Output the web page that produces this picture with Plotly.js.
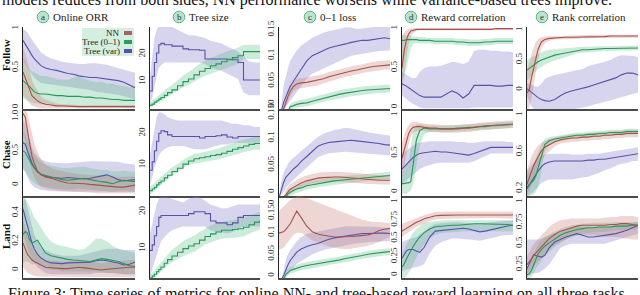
<!DOCTYPE html>
<html><head><meta charset="utf-8">
<script src="https://cdn.plot.ly/plotly-3.0.1.min.js"></script>
<style>html,body{margin:0;padding:0;background:#fff}#chart{width:640px;height:295px}</style>
</head><body><div id="chart"></div>
<script>
// time grid (shared by all panels, % of training)
const T = [0,2,4,6,8,10,13,16,20,25,30,35,40,45,50,55,60,65,70,75,80,85,90,95,100];

// ---------- Follow ----------
const fa_nn = [0.45,0.38,0.3,0.22,0.15,0.12,0.08,0.06,0.04,0.03,0.02,0.02,0.015,0.015,0.01,0.01,0.01,0.01,0.01,0.01,0.01,0.01,0.01,0.01,0.01];
const fa_nn_hi = [0.75,0.68,0.58,0.45,0.35,0.28,0.2,0.14,0.1,0.07,0.05,0.04,0.04,0.035,0.03,0.03,0.03,0.03,0.03,0.03,0.03,0.03,0.03,0.03,0.03];
const fa_nn_lo = [0.15,0.12,0.08,0.05,0.02,0.01,0,-0.01,-0.01,-0.01,-0.01,-0.01,-0.01,-0.01,-0.01,-0.01,-0.01,-0.01,-0.01,-0.01,-0.01,-0.01,-0.01,-0.01,-0.01];
const fa_g = [0.34,0.32,0.29,0.26,0.23,0.2,0.18,0.17,0.17,0.16,0.15,0.15,0.14,0.14,0.14,0.13,0.13,0.12,0.12,0.11,0.1,0.1,0.09,0.09,0.09];
const fa_g_hi = [0.62,0.58,0.52,0.48,0.46,0.44,0.42,0.4,0.4,0.38,0.36,0.35,0.35,0.38,0.4,0.36,0.34,0.32,0.33,0.3,0.3,0.28,0.27,0.26,0.25];
const fa_g_lo = [0.12,0.1,0.08,0.07,0.06,0.05,0.05,0.04,0.04,0.03,0.03,0.03,0.02,0.02,0.02,0.02,0.02,0.01,0.01,0.01,0.01,0.01,0,0,0];
const fa_v = [0.85,0.8,0.75,0.7,0.66,0.62,0.57,0.53,0.5,0.48,0.47,0.45,0.43,0.42,0.4,0.39,0.38,0.38,0.37,0.36,0.35,0.34,0.32,0.29,0.25];
const fa_v_hi = [1.0,0.98,0.95,0.9,0.86,0.82,0.76,0.7,0.66,0.62,0.6,0.58,0.57,0.56,0.55,0.55,0.56,0.56,0.55,0.54,0.52,0.5,0.48,0.46,0.44];
const fa_v_lo = [0.6,0.55,0.5,0.46,0.42,0.38,0.34,0.31,0.3,0.29,0.28,0.27,0.26,0.25,0.24,0.23,0.22,0.2,0.19,0.18,0.17,0.16,0.14,0.12,0.1];

const fb_v = [6.6,12,17,20.5,23.5,24,23.5,23.5,23,23,22,21.7,21.7,21.5,18.3,18.3,18.3,18.3,18.2,18,17,10.6,10.6,10.6,10.6];
const fb_v_hi = [12,20,26,29,30.5,30.5,30.5,30.5,30,29,28,27,27,26.5,26,25,24.5,24,23,22,21,19,17.5,17,17];
const fb_v_lo = [2,4,8,12,15,16,17,17,17,17,17,17,17,17,16.5,15,14.5,14,13,12,11,6,5,5,5];
const fb_g = [1.4,1.8,2.5,3,3.6,4.2,5,6,7,8.5,10,11,12.5,13.8,14.8,15.8,16.5,17.3,18,18.8,19.5,21,21,21,21];
const fb_g_hi = [2.5,3,3.7,4.3,5,5.7,6.6,7.7,8.8,10.5,12.2,13.4,15,16.5,17.6,18.7,19.5,20.3,21,21.8,22.5,23.5,23.5,23.5,23.5];
const fb_g_lo = [0.5,0.8,1.3,1.8,2.3,2.8,3.5,4.4,5.3,6.6,8,8.8,10,11.2,12.2,13,13.6,14.3,15,15.8,16.5,18.3,18.3,18.3,18.3];

const fc_v = [-0.01,-0.01,0.008,0.02,0.03,0.04,0.05,0.06,0.075,0.09,0.1,0.105,0.11,0.115,0.118,0.12,0.123,0.126,0.128,0.13,0.13,0.132,0.133,0.135,0.133];
const fc_v_hi = [-0.01,0,0.04,0.06,0.075,0.09,0.1,0.11,0.12,0.128,0.135,0.14,0.145,0.148,0.15,0.153,0.155,0.155,0.152,0.153,0.155,0.156,0.156,0.156,0.156];
const fc_v_lo = [-0.01,-0.01,-0.005,0,0.005,0.01,0.02,0.03,0.04,0.055,0.065,0.07,0.075,0.08,0.085,0.09,0.095,0.1,0.102,0.104,0.105,0.107,0.109,0.11,0.11];
const fc_nn = [-0.01,-0.01,-0.005,0.01,0.02,0.03,0.04,0.045,0.047,0.048,0.05,0.052,0.055,0.059,0.062,0.065,0.068,0.07,0.072,0.075,0.077,0.079,0.08,0.082,0.082];
const fc_nn_hi = [-0.01,-0.01,0.005,0.02,0.03,0.04,0.05,0.055,0.057,0.058,0.06,0.062,0.064,0.068,0.071,0.074,0.077,0.079,0.081,0.084,0.086,0.088,0.089,0.091,0.091];
const fc_nn_lo = [-0.01,-0.01,-0.01,0,0.01,0.02,0.03,0.035,0.037,0.038,0.04,0.042,0.046,0.05,0.053,0.056,0.059,0.061,0.063,0.066,0.068,0.07,0.071,0.073,0.073];
const fc_g = [-0.01,-0.01,-0.01,-0.01,-0.01,0,0.003,0.005,0.007,0.008,0.011,0.014,0.017,0.02,0.023,0.025,0.027,0.029,0.031,0.032,0.033,0.034,0.035,0.036,0.036];
const fc_g_hi = [-0.01,-0.01,-0.01,-0.01,-0.005,0.006,0.01,0.012,0.014,0.016,0.019,0.022,0.025,0.028,0.031,0.033,0.035,0.037,0.039,0.04,0.041,0.042,0.043,0.044,0.044];
const fc_g_lo = [-0.01,-0.01,-0.01,-0.01,-0.01,-0.005,-0.003,-0.001,0,0.001,0.004,0.007,0.01,0.012,0.015,0.017,0.019,0.021,0.023,0.024,0.025,0.026,0.027,0.028,0.028];

const fd_nn = [0.5,0.72,0.86,0.93,0.97,0.98,0.99,0.99,0.99,0.99,0.99,0.99,0.99,0.99,0.99,0.99,0.99,0.99,0.99,0.99,0.99,1,1,1,1];
const fd_nn_hi = [0.9,0.95,0.98,1,1.005,1.005,1.005,1.005,1.005,1.005,1.005,1.005,1.005,1.005,1.005,1.005,1.005,1.005,1.005,1.005,1.005,1.005,1.005,1.005,1.005];
const fd_nn_lo = [0.2,0.4,0.65,0.8,0.9,0.94,0.97,0.98,0.98,0.98,0.98,0.98,0.98,0.98,0.98,0.98,0.98,0.98,0.98,0.98,0.98,0.98,0.98,0.98,0.98];
const fd_g = [0.85,0.85,0.86,0.86,0.86,0.86,0.86,0.85,0.85,0.85,0.84,0.84,0.84,0.84,0.83,0.83,0.82,0.82,0.82,0.83,0.83,0.84,0.84,0.84,0.84];
const fd_g_hi = [0.92,0.92,0.92,0.91,0.9,0.9,0.9,0.89,0.89,0.88,0.88,0.88,0.88,0.88,0.87,0.87,0.86,0.86,0.86,0.87,0.87,0.88,0.88,0.88,0.88];
const fd_g_lo = [0.35,0.4,0.5,0.6,0.75,0.8,0.82,0.81,0.81,0.81,0.8,0.8,0.8,0.8,0.79,0.79,0.78,0.78,0.78,0.79,0.79,0.8,0.8,0.8,0.8];
const fd_v = [0.3,0.29,0.27,0.25,0.23,0.21,0.18,0.15,0.13,0.13,0.13,0.13,0.17,0.21,0.18,0.12,0.17,0.28,0.28,0.28,0.28,0.27,0.27,0.28,0.28];
const fd_v_hi = [0.45,0.43,0.42,0.4,0.38,0.37,0.38,0.45,0.5,0.52,0.52,0.53,0.55,0.58,0.57,0.55,0.58,0.72,0.73,0.73,0.72,0.72,0.71,0.71,0.7];
const fd_v_lo = [0.15,0.13,0.1,0.08,0.06,0.04,0.02,0,-0.01,-0.01,-0.01,-0.01,-0.01,-0.01,-0.01,-0.01,-0.01,0,0,0,0,0,0,0,0];

const fe_nn = [-0.05,0,0.2,0.38,0.56,0.68,0.8,0.84,0.86,0.87,0.87,0.88,0.88,0.88,0.89,0.89,0.89,0.89,0.89,0.9,0.9,0.9,0.9,0.9,0.9];
const fe_nn_hi = [0.35,0.45,0.6,0.72,0.8,0.85,0.88,0.89,0.9,0.9,0.9,0.91,0.91,0.91,0.92,0.92,0.92,0.92,0.92,0.92,0.92,0.92,0.92,0.92,0.92];
const fe_nn_lo = [-0.32,-0.3,-0.15,0.05,0.3,0.5,0.7,0.78,0.82,0.84,0.84,0.85,0.85,0.85,0.86,0.86,0.86,0.86,0.86,0.87,0.87,0.87,0.87,0.87,0.87];
const fe_g = [0.33,0.36,0.39,0.42,0.45,0.47,0.5,0.52,0.55,0.58,0.6,0.62,0.64,0.66,0.67,0.67,0.68,0.68,0.69,0.69,0.69,0.7,0.7,0.7,0.7];
const fe_g_hi = [0.5,0.52,0.55,0.57,0.59,0.61,0.63,0.65,0.67,0.68,0.69,0.7,0.71,0.72,0.72,0.72,0.73,0.73,0.73,0.73,0.73,0.74,0.74,0.74,0.74];
const fe_g_lo = [0.15,0.2,0.25,0.28,0.32,0.35,0.39,0.42,0.46,0.5,0.53,0.55,0.58,0.61,0.62,0.62,0.63,0.64,0.65,0.65,0.65,0.66,0.66,0.66,0.66];
const fe_v = [0.02,-0.01,-0.05,-0.08,-0.11,-0.13,-0.16,-0.18,-0.19,-0.16,-0.1,-0.05,-0.02,0,0.03,0.05,0.08,0.11,0.14,0.17,0.2,0.25,0.28,0.28,0.25];
const fe_v_hi = [0.12,0.1,0.08,0.06,0.05,0.05,0.1,0.18,0.22,0.25,0.27,0.28,0.3,0.32,0.35,0.4,0.42,0.45,0.47,0.5,0.55,0.58,0.58,0.57,0.55];
const fe_v_lo = [-0.1,-0.2,-0.28,-0.32,-0.33,-0.33,-0.33,-0.33,-0.33,-0.33,-0.33,-0.33,-0.33,-0.32,-0.3,-0.28,-0.25,-0.22,-0.2,-0.18,-0.15,-0.12,-0.1,-0.07,-0.05];

// ---------- Chase ----------
const ca_nn = [1.05,1,0.8,0.58,0.42,0.32,0.2,0.15,0.12,0.1,0.07,0.05,0.03,0.03,0.02,0.02,0.01,0,-0.01,-0.02,-0.03,-0.03,-0.03,-0.02,0];
const ca_nn_hi = [1.12,1.12,1.05,0.9,0.75,0.62,0.48,0.38,0.3,0.25,0.22,0.2,0.18,0.17,0.16,0.15,0.15,0.14,0.14,0.13,0.12,0.12,0.12,0.12,0.13];
const ca_nn_lo = [0.75,0.65,0.5,0.32,0.2,0.12,0.03,-0.02,-0.05,-0.07,-0.08,-0.09,-0.1,-0.1,-0.1,-0.1,-0.11,-0.12,-0.12,-0.13,-0.13,-0.13,-0.13,-0.12,-0.12];
const ca_g = [0.5,0.48,0.42,0.35,0.3,0.25,0.19,0.16,0.14,0.12,0.1,0.08,0.07,0.08,0.09,0.1,0.08,0.06,0.05,0.04,0.02,0.05,0.07,0.06,0.05];
const ca_g_hi = [0.78,0.74,0.66,0.58,0.5,0.44,0.38,0.33,0.3,0.28,0.26,0.25,0.25,0.26,0.27,0.27,0.25,0.23,0.22,0.22,0.2,0.2,0.21,0.2,0.2];
const ca_g_lo = [0.22,0.2,0.16,0.1,0.06,0.03,0,-0.02,-0.03,-0.04,-0.05,-0.06,-0.07,-0.06,-0.05,-0.05,-0.06,-0.07,-0.08,-0.09,-0.1,-0.09,-0.08,-0.08,-0.09];
const ca_v = [0.62,0.6,0.5,0.4,0.32,0.26,0.2,0.16,0.13,0.11,0.1,0.1,0.11,0.1,0.1,0.09,0.1,0.12,0.13,0.15,0.12,0.08,0.06,0.07,0.08];
const ca_v_hi = [0.95,0.9,0.78,0.65,0.55,0.48,0.42,0.38,0.35,0.33,0.32,0.32,0.32,0.33,0.33,0.34,0.35,0.35,0.35,0.35,0.35,0.34,0.32,0.31,0.3];
const ca_v_lo = [0.25,0.2,0.12,0.05,0,-0.03,-0.05,-0.07,-0.08,-0.09,-0.1,-0.1,-0.1,-0.1,-0.1,-0.1,-0.1,-0.1,-0.1,-0.1,-0.1,-0.1,-0.1,-0.1,-0.1];

const cb_v = [8.4,11,14.5,17.5,20,20.8,20.5,19.5,19,19,19,19,19,18.5,19,19,19.2,19.5,18.8,18.5,19,19,19,19,19];
const cb_v_hi = [13,17,21,25,26.5,26.5,26,25,24.5,24,24,24,24,24,24,24,24,24,23.5,23,23,22.5,22.5,22,22];
const cb_v_lo = [4,6,9,11,13,14,15,15.5,16,16,16,15.5,15,15,15,15.5,16,16.5,16.5,17,17,17,17,17,17];
const cb_g = [2,2.5,3,3.8,4.5,5,6,6.8,8,9,10.3,11.3,12,12.3,12.6,13,13.3,13.7,14.3,15,15.5,16,16.5,16.8,16.8];
const cb_g_hi = [3.3,3.8,4.3,5.1,5.8,6.3,7.3,8.1,9.3,10.3,11.6,12.6,13.5,13.8,14.1,14.6,15,15.5,16.2,17,17.5,18,18.5,18.8,18.8];
const cb_g_lo = [0.7,1.2,1.7,2.5,3.2,3.7,4.7,5.5,6.7,7.7,9,10,10.5,10.8,11.1,11.4,11.6,11.9,12.4,13,13.5,14,14.5,14.8,14.8];

const cc_v = [-0.01,0.005,0.017,0.027,0.032,0.037,0.043,0.048,0.057,0.066,0.075,0.085,0.089,0.092,0.093,0.094,0.095,0.096,0.095,0.094,0.093,0.092,0.09,0.088,0.087];
const cc_v_hi = [-0.01,0.02,0.035,0.045,0.052,0.058,0.064,0.069,0.076,0.085,0.093,0.102,0.108,0.112,0.115,0.117,0.119,0.118,0.115,0.113,0.111,0.109,0.107,0.106,0.105];
const cc_v_lo = [-0.01,-0.005,0,0.008,0.013,0.017,0.023,0.028,0.036,0.046,0.055,0.064,0.069,0.072,0.073,0.074,0.075,0.075,0.074,0.073,0.072,0.071,0.07,0.069,0.068];
const cc_nn = [-0.01,-0.01,-0.01,-0.005,0,0.005,0.009,0.013,0.017,0.021,0.024,0.026,0.027,0.028,0.028,0.028,0.027,0.026,0.025,0.024,0.023,0.023,0.022,0.022,0.022];
const cc_nn_hi = [-0.01,-0.01,-0.01,0.005,0.01,0.015,0.019,0.023,0.027,0.031,0.034,0.036,0.037,0.038,0.038,0.038,0.037,0.036,0.035,0.034,0.033,0.033,0.032,0.032,0.032];
const cc_nn_lo = [-0.01,-0.01,-0.01,-0.01,-0.008,-0.003,0.001,0.005,0.009,0.013,0.016,0.018,0.019,0.02,0.02,0.02,0.019,0.018,0.017,0.016,0.015,0.015,0.014,0.014,0.014];
const cc_g = [-0.01,-0.01,-0.01,-0.01,-0.003,0,0.003,0.006,0.008,0.012,0.014,0.016,0.018,0.019,0.021,0.022,0.023,0.025,0.026,0.027,0.028,0.029,0.03,0.031,0.031];
const cc_g_hi = [-0.01,-0.01,-0.01,-0.005,0.004,0.007,0.01,0.013,0.015,0.019,0.021,0.023,0.025,0.026,0.028,0.029,0.03,0.032,0.033,0.034,0.035,0.036,0.037,0.038,0.038];
const cc_g_lo = [-0.01,-0.01,-0.01,-0.01,-0.01,-0.007,-0.004,-0.001,0.001,0.005,0.007,0.009,0.011,0.012,0.014,0.015,0.016,0.018,0.019,0.02,0.021,0.022,0.023,0.024,0.024];

const cd_nn = [0.44,0.55,0.67,0.76,0.81,0.84,0.85,0.85,0.84,0.83,0.83,0.82,0.82,0.82,0.82,0.83,0.83,0.84,0.85,0.86,0.86,0.87,0.87,0.88,0.88];
const cd_nn_hi = [0.65,0.75,0.82,0.87,0.9,0.91,0.91,0.9,0.89,0.88,0.88,0.87,0.87,0.87,0.87,0.88,0.88,0.89,0.9,0.91,0.91,0.92,0.92,0.93,0.93];
const cd_nn_lo = [0.22,0.33,0.48,0.62,0.72,0.77,0.79,0.8,0.79,0.78,0.78,0.77,0.77,0.77,0.77,0.78,0.78,0.79,0.8,0.81,0.81,0.82,0.82,0.83,0.83];
const cd_g = [0.11,0.11,0.12,0.12,0.14,0.35,0.68,0.8,0.83,0.82,0.82,0.82,0.82,0.82,0.83,0.83,0.84,0.84,0.85,0.85,0.86,0.86,0.87,0.87,0.88];
const cd_g_hi = [0.25,0.3,0.35,0.4,0.6,0.8,0.88,0.88,0.87,0.86,0.86,0.86,0.86,0.86,0.87,0.87,0.88,0.88,0.89,0.89,0.9,0.9,0.91,0.91,0.92];
const cd_g_lo = [-0.02,-0.02,-0.02,0,0.02,0.1,0.35,0.6,0.75,0.78,0.78,0.78,0.78,0.78,0.79,0.79,0.8,0.8,0.81,0.81,0.82,0.82,0.83,0.83,0.84];
const cd_v = [0.3,0.33,0.37,0.4,0.43,0.45,0.48,0.5,0.51,0.52,0.53,0.52,0.52,0.51,0.5,0.49,0.48,0.5,0.53,0.56,0.58,0.58,0.58,0.58,0.58];
const cd_v_hi = [0.5,0.52,0.55,0.57,0.59,0.61,0.63,0.64,0.65,0.66,0.66,0.66,0.66,0.66,0.65,0.65,0.64,0.64,0.65,0.66,0.66,0.66,0.66,0.65,0.65];
const cd_v_lo = [0.1,0.12,0.15,0.18,0.2,0.22,0.26,0.3,0.33,0.35,0.37,0.38,0.38,0.38,0.38,0.38,0.38,0.4,0.43,0.47,0.5,0.5,0.5,0.5,0.5];

const ce_nn = [0.25,0.32,0.38,0.45,0.5,0.55,0.61,0.65,0.68,0.71,0.73,0.74,0.75,0.75,0.76,0.76,0.77,0.77,0.78,0.78,0.79,0.79,0.8,0.8,0.8];
const ce_nn_hi = [0.4,0.48,0.55,0.6,0.64,0.67,0.7,0.72,0.74,0.76,0.77,0.78,0.79,0.79,0.8,0.8,0.81,0.81,0.82,0.82,0.83,0.83,0.84,0.84,0.84];
const ce_nn_lo = [0.13,0.18,0.24,0.3,0.36,0.42,0.5,0.56,0.61,0.66,0.69,0.7,0.71,0.71,0.72,0.72,0.73,0.73,0.74,0.74,0.75,0.75,0.76,0.76,0.76];
const ce_g = [0.22,0.24,0.26,0.29,0.34,0.42,0.56,0.68,0.72,0.74,0.75,0.76,0.77,0.78,0.78,0.79,0.79,0.8,0.8,0.81,0.81,0.81,0.82,0.82,0.82];
const ce_g_hi = [0.35,0.38,0.42,0.47,0.53,0.6,0.68,0.74,0.76,0.77,0.78,0.79,0.8,0.81,0.81,0.82,0.82,0.83,0.83,0.84,0.84,0.84,0.85,0.85,0.85];
const ce_g_lo = [0.12,0.12,0.13,0.14,0.16,0.22,0.38,0.6,0.67,0.7,0.72,0.73,0.74,0.75,0.75,0.76,0.76,0.77,0.77,0.78,0.78,0.78,0.79,0.79,0.79];
const ce_v = [0.2,0.24,0.28,0.32,0.36,0.39,0.44,0.47,0.49,0.5,0.5,0.5,0.5,0.5,0.5,0.51,0.51,0.52,0.52,0.53,0.54,0.55,0.56,0.57,0.58];
const ce_v_hi = [0.4,0.43,0.46,0.49,0.51,0.53,0.56,0.57,0.58,0.58,0.58,0.58,0.57,0.57,0.57,0.58,0.58,0.58,0.59,0.6,0.61,0.62,0.63,0.64,0.65];
const ce_v_lo = [0.12,0.13,0.15,0.17,0.19,0.22,0.26,0.28,0.3,0.3,0.3,0.3,0.3,0.31,0.32,0.33,0.35,0.37,0.4,0.42,0.45,0.47,0.48,0.5,0.5];

// ---------- Land ----------
const la_nn = [0.19,0.15,0.11,0.09,0.07,0.06,0.045,0.035,0.02,0.015,0.015,0.01,0.01,0.015,0.02,0.015,0.01,0.005,0,0.005,0.01,0.015,0.02,0.02,0.02];
const la_nn_hi = [0.35,0.3,0.24,0.2,0.16,0.13,0.11,0.09,0.07,0.065,0.06,0.06,0.06,0.065,0.07,0.065,0.06,0.055,0.05,0.055,0.06,0.065,0.07,0.07,0.07];
const la_nn_lo = [0.02,0,-0.02,-0.03,-0.035,-0.04,-0.045,-0.05,-0.05,-0.05,-0.05,-0.05,-0.05,-0.05,-0.05,-0.05,-0.05,-0.05,-0.05,-0.05,-0.05,-0.05,-0.05,-0.05,-0.05];
const la_g = [0.25,0.27,0.26,0.21,0.19,0.2,0.21,0.17,0.12,0.1,0.09,0.08,0.075,0.07,0.065,0.06,0.06,0.07,0.08,0.075,0.07,0.06,0.045,0.03,0.025];
const la_g_hi = [0.48,0.5,0.48,0.44,0.4,0.37,0.34,0.3,0.25,0.2,0.18,0.17,0.16,0.15,0.14,0.15,0.18,0.22,0.22,0.2,0.17,0.15,0.14,0.13,0.12];
const la_g_lo = [0.05,0.06,0.06,0.05,0.04,0.04,0.05,0.03,0.01,0,0,-0.01,-0.01,-0.01,-0.01,-0.01,-0.01,-0.01,-0.01,-0.02,-0.02,-0.02,-0.03,-0.03,-0.03];
const la_v = [0.43,0.37,0.3,0.24,0.19,0.15,0.11,0.085,0.065,0.05,0.045,0.045,0.05,0.05,0.05,0.05,0.055,0.065,0.07,0.065,0.06,0.05,0.035,0.04,0.055];
const la_v_hi = [0.52,0.5,0.44,0.37,0.3,0.25,0.2,0.16,0.14,0.12,0.11,0.1,0.1,0.1,0.1,0.11,0.12,0.13,0.14,0.15,0.15,0.15,0.14,0.14,0.14];
const la_v_lo = [0.25,0.2,0.15,0.1,0.07,0.05,0.02,0,-0.02,-0.03,-0.03,-0.03,-0.03,-0.03,-0.03,-0.03,-0.03,-0.02,-0.02,-0.02,-0.02,-0.03,-0.03,-0.03,-0.03];

const lb_v = [9.5,11,13.5,16,18.5,19,19,19,19,19,19,19.5,20,20,19.5,17.5,17,17,16.5,17,18.5,19,19,19,19];
const lb_v_hi = [14,17,20,22,23.5,24,24,24,23.5,23,22.5,23.5,24,24,23,22,21.5,21,21,21.5,22,22,22,22,22];
const lb_v_lo = [2.5,4,6,8,10,12,13,14,15,15.5,16,16,16,16,16,15,14.5,14.5,14,14.5,15.5,16,16,16,16];
const lb_g = [2,2.5,3,3.7,4.3,5,6,7,8,9,10,10.7,11.3,12.3,13.3,14,14.5,15,15,15.2,15.4,15.8,16.5,17.2,17.7];
const lb_g_hi = [3,3.5,4,4.8,5.5,6.3,7.5,8.5,9.7,10.8,12,12.8,13.5,14.5,15.5,16.3,16.8,17.3,17.5,17.7,18,18.4,19,19.6,20];
const lb_g_lo = [1,1.5,2,2.6,3.1,3.7,4.5,5.5,6.3,7.2,8,8.6,9.1,10.1,11.1,11.7,12.2,12.7,12.8,12.9,13,13.3,14,14.7,15.2];

const lc_nn = [0.099,0.1,0.102,0.107,0.113,0.12,0.135,0.15,0.135,0.115,0.102,0.097,0.094,0.092,0.09,0.09,0.09,0.091,0.092,0.093,0.095,0.098,0.105,0.108,0.11];
const lc_nn_hi = [0.15,0.155,0.16,0.165,0.17,0.175,0.18,0.185,0.185,0.18,0.175,0.17,0.165,0.16,0.155,0.15,0.145,0.14,0.135,0.13,0.127,0.125,0.125,0.123,0.122];
const lc_nn_lo = [0.06,0.062,0.065,0.07,0.078,0.085,0.095,0.1,0.1,0.092,0.082,0.077,0.072,0.068,0.065,0.063,0.062,0.063,0.065,0.067,0.07,0.073,0.078,0.085,0.09];
const lc_v = [-0.01,-0.01,0,0.015,0.025,0.035,0.045,0.055,0.062,0.068,0.072,0.075,0.08,0.085,0.088,0.09,0.092,0.095,0.097,0.098,0.098,0.099,0.099,0.099,0.098];
const lc_v_hi = [-0.01,-0.01,0.01,0.035,0.05,0.06,0.07,0.08,0.09,0.097,0.1,0.103,0.105,0.108,0.11,0.112,0.115,0.115,0.115,0.115,0.115,0.114,0.113,0.112,0.11];
const lc_v_lo = [-0.01,-0.01,-0.005,0,0.005,0.01,0.02,0.028,0.035,0.042,0.05,0.055,0.06,0.063,0.065,0.068,0.07,0.073,0.075,0.077,0.078,0.079,0.08,0.08,0.08];
const lc_g = [-0.01,-0.01,-0.01,0.003,0.008,0.012,0.015,0.018,0.021,0.024,0.026,0.028,0.03,0.033,0.035,0.037,0.04,0.042,0.045,0.047,0.05,0.052,0.053,0.055,0.056];
const lc_g_hi = [-0.01,-0.01,-0.005,0.01,0.016,0.02,0.023,0.026,0.029,0.032,0.034,0.036,0.038,0.041,0.043,0.045,0.048,0.05,0.053,0.055,0.058,0.06,0.061,0.063,0.064];
const lc_g_lo = [-0.01,-0.01,-0.01,-0.005,0,0.004,0.007,0.01,0.013,0.016,0.018,0.02,0.022,0.025,0.027,0.029,0.032,0.034,0.037,0.039,0.042,0.044,0.045,0.047,0.048];

const ld_nn = [0.6,0.62,0.64,0.66,0.68,0.7,0.72,0.74,0.77,0.79,0.81,0.815,0.82,0.82,0.82,0.82,0.82,0.825,0.83,0.83,0.83,0.83,0.83,0.825,0.82];
const ld_nn_hi = [0.7,0.71,0.72,0.73,0.74,0.76,0.78,0.8,0.82,0.84,0.86,0.865,0.87,0.87,0.87,0.87,0.87,0.875,0.88,0.88,0.88,0.88,0.88,0.875,0.87];
const ld_nn_lo = [0.52,0.54,0.56,0.58,0.61,0.63,0.66,0.68,0.71,0.74,0.76,0.765,0.77,0.77,0.77,0.77,0.77,0.775,0.78,0.78,0.78,0.78,0.78,0.775,0.77];
const ld_g = [0.11,0.15,0.22,0.28,0.33,0.39,0.46,0.52,0.58,0.63,0.66,0.67,0.67,0.68,0.68,0.69,0.69,0.7,0.7,0.7,0.7,0.7,0.69,0.69,0.68];
const ld_g_hi = [0.3,0.35,0.42,0.48,0.53,0.58,0.63,0.67,0.71,0.73,0.74,0.75,0.75,0.75,0.75,0.76,0.76,0.76,0.76,0.76,0.76,0.76,0.75,0.75,0.75];
const ld_g_lo = [-0.04,-0.04,-0.02,0.03,0.08,0.15,0.25,0.33,0.42,0.5,0.55,0.57,0.58,0.59,0.59,0.6,0.6,0.61,0.61,0.61,0.61,0.61,0.6,0.6,0.6];
const ld_v = [0.23,0.28,0.33,0.35,0.35,0.35,0.33,0.31,0.38,0.52,0.6,0.61,0.62,0.63,0.64,0.64,0.63,0.61,0.59,0.6,0.62,0.64,0.65,0.67,0.68];
const ld_v_hi = [0.45,0.47,0.48,0.49,0.5,0.5,0.52,0.55,0.6,0.66,0.7,0.71,0.71,0.72,0.72,0.72,0.71,0.7,0.7,0.71,0.72,0.73,0.74,0.75,0.75];
const ld_v_lo = [0.05,0.07,0.08,0.09,0.1,0.1,0.11,0.12,0.15,0.3,0.4,0.45,0.48,0.5,0.5,0.5,0.49,0.48,0.47,0.48,0.5,0.52,0.54,0.55,0.55];

const le_nn = [0.25,0.28,0.32,0.36,0.39,0.42,0.46,0.5,0.56,0.61,0.65,0.67,0.69,0.71,0.72,0.72,0.72,0.72,0.72,0.73,0.73,0.74,0.74,0.73,0.72];
const le_nn_hi = [0.35,0.4,0.45,0.5,0.53,0.56,0.6,0.64,0.7,0.75,0.78,0.79,0.8,0.8,0.8,0.8,0.8,0.8,0.81,0.82,0.82,0.83,0.83,0.83,0.82];
const le_nn_lo = [0.15,0.17,0.2,0.23,0.26,0.29,0.33,0.37,0.43,0.48,0.52,0.55,0.58,0.6,0.6,0.6,0.6,0.59,0.58,0.58,0.58,0.57,0.56,0.55,0.55];
const le_g = [0.13,0.14,0.18,0.25,0.32,0.38,0.43,0.47,0.51,0.56,0.6,0.63,0.65,0.67,0.68,0.69,0.69,0.7,0.7,0.7,0.71,0.71,0.71,0.72,0.72];
const le_g_hi = [0.2,0.22,0.3,0.38,0.44,0.5,0.55,0.58,0.61,0.65,0.68,0.7,0.72,0.73,0.74,0.74,0.75,0.75,0.75,0.75,0.76,0.76,0.76,0.76,0.76];
const le_g_lo = [0.09,0.09,0.1,0.14,0.2,0.24,0.3,0.35,0.4,0.46,0.51,0.55,0.58,0.6,0.62,0.63,0.63,0.64,0.64,0.65,0.66,0.66,0.66,0.67,0.67];
const le_v = [0.2,0.26,0.32,0.37,0.36,0.35,0.34,0.36,0.45,0.52,0.55,0.58,0.6,0.62,0.6,0.58,0.58,0.59,0.6,0.61,0.62,0.64,0.66,0.69,0.72];
const le_v_hi = [0.55,0.55,0.55,0.55,0.55,0.55,0.56,0.58,0.6,0.63,0.65,0.67,0.69,0.7,0.7,0.7,0.7,0.7,0.7,0.71,0.72,0.73,0.74,0.75,0.76];
const le_v_lo = [0.1,0.12,0.14,0.15,0.15,0.15,0.17,0.2,0.25,0.35,0.45,0.48,0.5,0.5,0.5,0.5,0.5,0.5,0.5,0.52,0.54,0.56,0.58,0.6,0.62];

// labels
const colTitles = ['Online ORR','Tree size','0\u20131 loss','Reward correlation','Rank correlation'];
const colLetters = ['a','b','c','d','e'];
const rowNames = ['Follow','Chase','Land'];
const legendNames = ['NN','Tree (0\u20131)','Tree (var)'];

// ---------- styling / layout ----------
const SERIF = 'Liberation Serif, DejaVu Serif, serif';
const COL = {nn:'#a4524c', g:'#27985b', v:'#5752a8'};
const BAND = {nn:'rgba(196,118,112,0.30)', g:'rgba(70,180,120,0.27)', v:'rgba(145,138,208,0.36)'};
const SW = {nn:'#b0605a', g:'#21a060', v:'#5450b0'};
const W = 640, H = 295;
const colPx = [[23,135],[150,260],[279,390],[402,513],[527,638]];
const rowPx = [[27,109],[110,196],[196,278]];
const S = (k,m,lo,hi)=>({k,m,lo,hi});

const panels = [
 {r:0,c:0,range:[-0.02,1.02],tv:[0,0.5,1],tt:['0','0.5','1'],s:[S('v',fa_v,fa_v_lo,fa_v_hi),S('g',fa_g,fa_g_lo,fa_g_hi),S('nn',fa_nn,fa_nn_lo,fa_nn_hi)]},
 {r:0,c:1,range:[0,30],tv:[10,20],tt:['10','20'],step:true,s:[S('v',fb_v,fb_v_lo,fb_v_hi),S('g',fb_g,fb_g_lo,fb_g_hi)]},
 {r:0,c:2,range:[-0.004,0.156],tv:[0,0.05,0.1,0.15],tt:['0','0.05','0.1','0.15'],s:[S('v',fc_v,fc_v_lo,fc_v_hi),S('g',fc_g,fc_g_lo,fc_g_hi),S('nn',fc_nn,fc_nn_lo,fc_nn_hi)]},
 {r:0,c:3,range:[-0.02,1.02],tv:[0,0.5,1],tt:['0','0.5','1'],s:[S('v',fd_v,fd_v_lo,fd_v_hi),S('g',fd_g,fd_g_lo,fd_g_hi),S('nn',fd_nn,fd_nn_lo,fd_nn_hi)]},
 {r:0,c:4,range:[-0.32,1.05],tv:[0,0.5,1],tt:['0','0.5','1'],s:[S('v',fe_v,fe_v_lo,fe_v_hi),S('g',fe_g,fe_g_lo,fe_g_hi),S('nn',fe_nn,fe_nn_lo,fe_nn_hi)]},
 {r:1,c:0,range:[-0.16,1.1],tv:[0,0.5,1],tt:['0','0.5','1.0'],s:[S('v',ca_v,ca_v_lo,ca_v_hi),S('g',ca_g,ca_g_lo,ca_g_hi),S('nn',ca_nn,ca_nn_lo,ca_nn_hi)]},
 {r:1,c:1,range:[0.3,27.3],tv:[10,20],tt:['10','20'],step:true,s:[S('v',cb_v,cb_v_lo,cb_v_hi),S('g',cb_g,cb_g_lo,cb_g_hi)]},
 {r:1,c:2,range:[-0.007,0.152],tv:[0,0.05,0.1,0.15],tt:['0','0.05','0.1','0.150'],s:[S('v',cc_v,cc_v_lo,cc_v_hi),S('g',cc_g,cc_g_lo,cc_g_hi),S('nn',cc_nn,cc_nn_lo,cc_nn_hi)]},
 {r:1,c:3,range:[-0.05,1.065],tv:[0,0.5,1],tt:['0','0.5','1'],s:[S('v',cd_v,cd_v_lo,cd_v_hi),S('g',cd_g,cd_g_lo,cd_g_hi),S('nn',cd_nn,cd_nn_lo,cd_nn_hi)]},
 {r:1,c:4,range:[0.12,1.055],tv:[0.2,0.6,1],tt:['0.2','0.6','1'],s:[S('v',ce_v,ce_v_lo,ce_v_hi),S('g',ce_g,ce_g_lo,ce_g_hi),S('nn',ce_nn,ce_nn_lo,ce_nn_hi)]},
 {r:2,c:0,range:[-0.056,0.52],tv:[0,0.2,0.4],tt:['0','0.2','0.4'],s:[S('v',la_v,la_v_lo,la_v_hi),S('g',la_g,la_g_lo,la_g_hi),S('nn',la_nn,la_nn_lo,la_nn_hi)]},
 {r:2,c:1,range:[2,24.3],tv:[10,20],tt:['10','20'],step:true,s:[S('v',lb_v,lb_v_lo,lb_v_hi),S('g',lb_g,lb_g_lo,lb_g_hi)]},
 {r:2,c:2,range:[-0.005,0.185],tv:[0,0.05,0.1,0.15],tt:['0','0.05','0.1','0.150'],s:[S('v',lc_v,lc_v_lo,lc_v_hi),S('g',lc_g,lc_g_lo,lc_g_hi),S('nn',lc_nn,lc_nn_lo,lc_nn_hi)]},
 {r:2,c:3,range:[-0.04,1.08],tv:[0,0.25,0.5,0.75,1],tt:['0','0.25','0.5','0.75','1'],s:[S('v',ld_v,ld_v_lo,ld_v_hi),S('g',ld_g,ld_g_lo,ld_g_hi),S('nn',ld_nn,ld_nn_lo,ld_nn_hi)]},
 {r:2,c:4,range:[0.09,1.07],tv:[0.25,0.5,0.75,1],tt:['0.25','0.5','0.75','1'],s:[S('v',le_v,le_v_lo,le_v_hi),S('g',le_g,le_g_lo,le_g_hi),S('nn',le_nn,le_nn_lo,le_nn_hi)]}
];

const px = x => x / W, py = y => 1 - y / H;
const traces = [];
const layout = {
  width: W, height: H, margin: {l:0,r:0,t:0,b:0},
  paper_bgcolor: '#fff', plot_bgcolor: 'rgba(0,0,0,0)', showlegend: false,
  font: {family: SERIF, color: '#222'},
  shapes: [], annotations: []
};
const Trev = T.slice().reverse();

panels.forEach((p, i) => {
  const n = i + 1, sfx = n === 1 ? '' : String(n);
  const xa = 'x' + sfx, ya = 'y' + sfx;
  p.s.forEach(s => traces.push({
    x: T.concat(Trev), y: s.hi.concat(s.lo.slice().reverse()),
    xaxis: xa, yaxis: ya, mode: 'lines', fill: 'toself', fillcolor: BAND[s.k],
    line: {width: 0}, hoverinfo: 'skip'
  }));
  p.s.forEach(s => traces.push({
    x: T, y: s.m, xaxis: xa, yaxis: ya, mode: 'lines',
    line: {color: COL[s.k], width: 1.1, shape: p.step ? 'hv' : 'linear'}, hoverinfo: 'skip'
  }));
  const cx = colPx[p.c], ry = rowPx[p.r];
  layout['xaxis' + sfx] = {
    domain: [px(cx[0]), px(cx[1])], range: [0, 100], anchor: ya,
    showticklabels: false, ticks: '', showgrid: false, zeroline: false,
    showline: true, linecolor: '#4a4a4a', linewidth: 2, fixedrange: true
  };
  layout['yaxis' + sfx] = {
    domain: [py(ry[1]), py(ry[0])], range: p.range, anchor: xa,
    tickmode: 'array', tickvals: p.tv, ticktext: p.tt, tickangle: -90,
    tickfont: {family: SERIF, size: 9, color: '#333'},
    ticks: '', showgrid: false, zeroline: false, showline: true, linecolor: '#222', linewidth: 1, fixedrange: true
  };
});

// column titles with circled letters
const letterX = [43, 179, 310, 411, 542];
colTitles.forEach((t, c) => {
  const cx = letterX[c], cy = 17, r = 5.8;
  layout.shapes.push({type: 'circle', xref: 'paper', yref: 'paper',
    x0: px(cx - r), x1: px(cx + r), y0: py(cy + r), y1: py(cy - r),
    fillcolor: '#b9e3cc', line: {color: '#5cb888', width: 1}});
  layout.annotations.push({xref: 'paper', yref: 'paper', x: px(cx), y: py(cy), xanchor: 'center', yanchor: 'middle',
    text: colLetters[c], showarrow: false, font: {family: SERIF, size: 9, color: '#333'}});
  layout.annotations.push({xref: 'paper', yref: 'paper', x: px(cx + 7.5), y: py(cy), xanchor: 'left', yanchor: 'middle',
    text: t, showarrow: false, font: {family: SERIF, size: 11, color: '#222'}});
});

// row labels
const rowLabelY = [55, 155, 237];
rowNames.forEach((t, r) => layout.annotations.push({xref: 'paper', yref: 'paper', x: px(6), y: py(rowLabelY[r]),
  xanchor: 'center', yanchor: 'middle', textangle: -90, text: '<b>' + t + '</b>', showarrow: false,
  font: {family: SERIF, size: 11, color: '#111'}}));

// legend box in panel (a) Follow
layout.shapes.push({type: 'rect', xref: 'paper', yref: 'paper', x0: px(82), x1: px(134), y0: py(56), y1: py(28),
  fillcolor: 'rgba(205,236,219,0.85)', line: {width: 0}, layer: 'above'});
const legY = [33, 42, 51], legK = ['nn', 'g', 'v'];
legendNames.forEach((t, i) => {
  layout.annotations.push({xref: 'paper', yref: 'paper', x: px(122), y: py(legY[i]), xanchor: 'right', yanchor: 'middle',
    text: t, showarrow: false, font: {family: SERIF, size: 9, color: '#222'}});
  layout.shapes.push({type: 'rect', xref: 'paper', yref: 'paper', x0: px(124), x1: px(132), y0: py(legY[i] + 2), y1: py(legY[i] - 2),
    fillcolor: SW[legK[i]], line: {width: 0}, layer: 'above'});
});

// surrounding caption text (cropped in the reference)
layout.annotations.push({xref: 'paper', yref: 'paper', x: 0, y: py(11), xanchor: 'left', yanchor: 'bottom',
  text: 'models reduces from both sides, NN performance worsens while variance-based trees improve.',
  showarrow: false, font: {family: SERIF, size: 16, color: '#111'}});
layout.annotations.push({xref: 'paper', yref: 'paper', x: px(6), y: py(283), xanchor: 'left', yanchor: 'top',
  text: 'Figure 3: Time series of metrics for online NN- and tree-based reward learning on all three tasks.',
  showarrow: false, font: {family: SERIF, size: 16, color: '#111'}});

Plotly.newPlot('chart', traces, layout, {staticPlot: true, displayModeBar: false});
</script></body></html>
